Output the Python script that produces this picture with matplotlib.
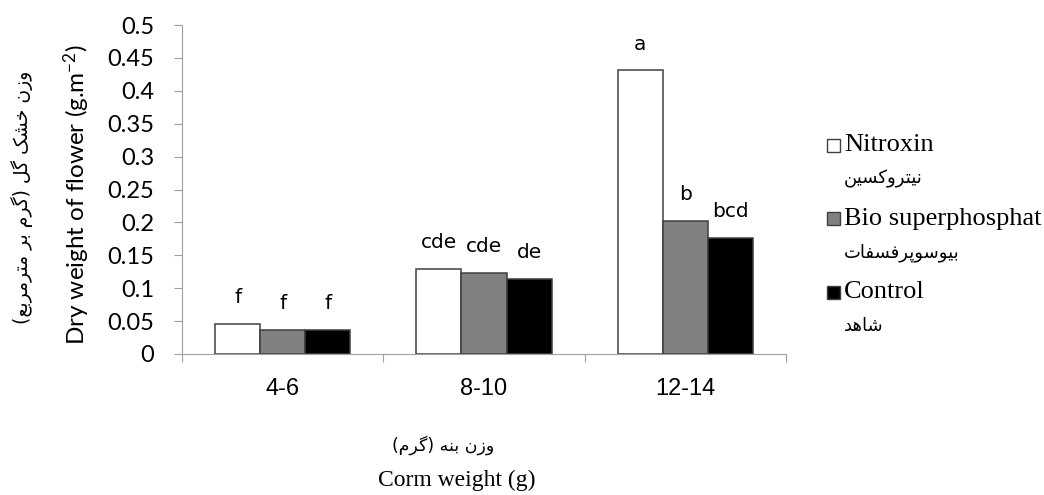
"""Dry weight of flower by corm weight and fertiliser (grouped bars)."""

import matplotlib.pyplot as plt
from matplotlib.patches import Rectangle
import numpy as np

plt.rcParams["mathtext.default"] = "regular"

groups = ["4-6", "8-10", "12-14"]
series_en = ["Nitroxin", "Bio superphosphat", "Control"]
series_fa = ["نیتروکسین", "بیوسوپرفسفات", "شاهد"]
nitroxin = [0.046, 0.129, 0.431]
bio = [0.037, 0.123, 0.202]
control = [0.036, 0.114, 0.177]
letters = [["f", "cde", "a"], ["f", "cde", "b"], ["f", "de", "bcd"]]

ylabel_en = "Dry weight of flower (g.m$^{-2}$)"
ylabel_fa = "وزن خشک گل (گرم بر مترمربع)"
xlabel_en = "Corm weight (g)"
xlabel_fa = "وزن بنه (گرم)"

FILL = ["#ffffff", "#808080", "#000000"]
W, H = 1044, 495

# contextual forms (isolated, final, initial, medial); two entries = joins right only
FORMS = {
    "ا": ("\ufe8d", "\ufe8e"),
    "د": ("\ufea9", "\ufeaa"),
    "ر": ("\ufead", "\ufeae"),
    "ز": ("\ufeaf", "\ufeb0"),
    "و": ("\ufeed", "\ufeee"),
    "ب": ("\ufe8f", "\ufe90", "\ufe91", "\ufe92"),
    "ت": ("\ufe95", "\ufe96", "\ufe97", "\ufe98"),
    "خ": ("\ufea5", "\ufea6", "\ufea7", "\ufea8"),
    "س": ("\ufeb1", "\ufeb2", "\ufeb3", "\ufeb4"),
    "ش": ("\ufeb5", "\ufeb6", "\ufeb7", "\ufeb8"),
    "ع": ("\ufec9", "\ufeca", "\ufecb", "\ufecc"),
    "ف": ("\ufed1", "\ufed2", "\ufed3", "\ufed4"),
    "ل": ("\ufedd", "\ufede", "\ufedf", "\ufee0"),
    "م": ("\ufee1", "\ufee2", "\ufee3", "\ufee4"),
    "ن": ("\ufee5", "\ufee6", "\ufee7", "\ufee8"),
    "ه": ("\ufee9", "\ufeea", "\ufeeb", "\ufeec"),
    "پ": ("\ufb56", "\ufb57", "\ufb58", "\ufb59"),
    "ک": ("\ufb8e", "\ufb8f", "\ufb90", "\ufb91"),
    "گ": ("\ufb92", "\ufb93", "\ufb94", "\ufb95"),
    "ی": ("\ufbfc", "\ufbfd", "\ufbfe", "\ufbff"),
}


def fa(text):
    # matplotlib has no shaping / bidi, so do it by hand
    out = []
    for i, ch in enumerate(text):
        f = FORMS.get(ch)
        if f is None:
            out.append(ch)
            continue
        prev = text[i - 1] if i > 0 else ""
        nxt = text[i + 1] if i + 1 < len(text) else ""
        jp = prev in FORMS and len(FORMS[prev]) == 4
        jn = len(f) == 4 and nxt in FORMS
        out.append(f[3] if jp and jn else f[1] if jp else f[2] if jn else f[0])
    return "".join(reversed(out)).translate(str.maketrans("()", ")("))


def fx(px):
    return px / W


def fy(py):
    return 1 - py / H


fig = plt.figure(figsize=(W / 100, H / 100), dpi=100)
ax = fig.add_axes([fx(182), fy(354), fx(786 - 182), (354 - 25) / H])

x = np.arange(len(groups))
bw = 0.224
for i, vals in enumerate([nitroxin, bio, control]):
    pos = x + (i - 1) * bw
    ax.bar(pos, vals, bw, color=FILL[i], edgecolor="#404040", linewidth=1.1)
    for p, v, lab in zip(pos, vals, letters[i]):
        ax.annotate(lab, (p, v), xytext=(0, 19), textcoords="offset points",
                    ha="center", va="center", fontsize=14.5, family="DejaVu Sans")

ax.set_xlim(-0.5, 2.5)
ax.set_ylim(0, 0.5)
ax.set_yticks(np.arange(0, 0.501, 0.05))
ax.set_yticklabels(["0", "0.05", "0.1", "0.15", "0.2", "0.25", "0.3",
                    "0.35", "0.4", "0.45", "0.5"], family="Lato", fontsize=17)
ax.set_xticks([-0.5, 0.5, 1.5, 2.5])
ax.set_xticklabels([])
ax.set_xticks(x, minor=True)
ax.set_xticklabels(groups, minor=True, family="Liberation Sans", fontsize=17)
ax.tick_params(axis="x", which="minor", length=0, pad=17)
ax.tick_params(axis="both", which="major", length=6, color="#a0a0a0")
ax.tick_params(axis="y", pad=14)
for s in ["top", "right"]:
    ax.spines[s].set_visible(False)
for s in ["left", "bottom"]:
    ax.spines[s].set_color("#a0a0a0")

fig.text(fx(77), fy(195), ylabel_en, rotation=90, ha="center", va="center",
         family="Lato", fontsize=17.5)
fig.text(fx(22), fy(197), fa(ylabel_fa), rotation=90, ha="center", va="center",
         family="DejaVu Sans", fontsize=13.5)
fig.text(fx(443), fy(445), fa(xlabel_fa), ha="center", va="center",
         family="DejaVu Sans", fontsize=12.5)
fig.text(fx(457), fy(480), xlabel_en, ha="center", va="center",
         family="Liberation Serif", fontsize=17)

# legend drawn by hand: marker next to first line, Persian line below
for i, (en, far) in enumerate(zip(series_en, series_fa)):
    yc = 145 + i * 73.5
    fig.add_artist(Rectangle((fx(827), fy(yc + 6.5)), 13 / W, 13 / H,
                             transform=fig.transFigure, facecolor=FILL[i],
                             edgecolor="#404040", linewidth=1))
    fig.text(fx(844), fy(yc), en, ha="left", va="center",
             family="Liberation Serif", fontsize=19)
    fig.text(fx(844), fy(yc + 34), fa(far), ha="left", va="center",
             family="DejaVu Sans", fontsize=13)

plt.savefig("out.png", dpi=100)
